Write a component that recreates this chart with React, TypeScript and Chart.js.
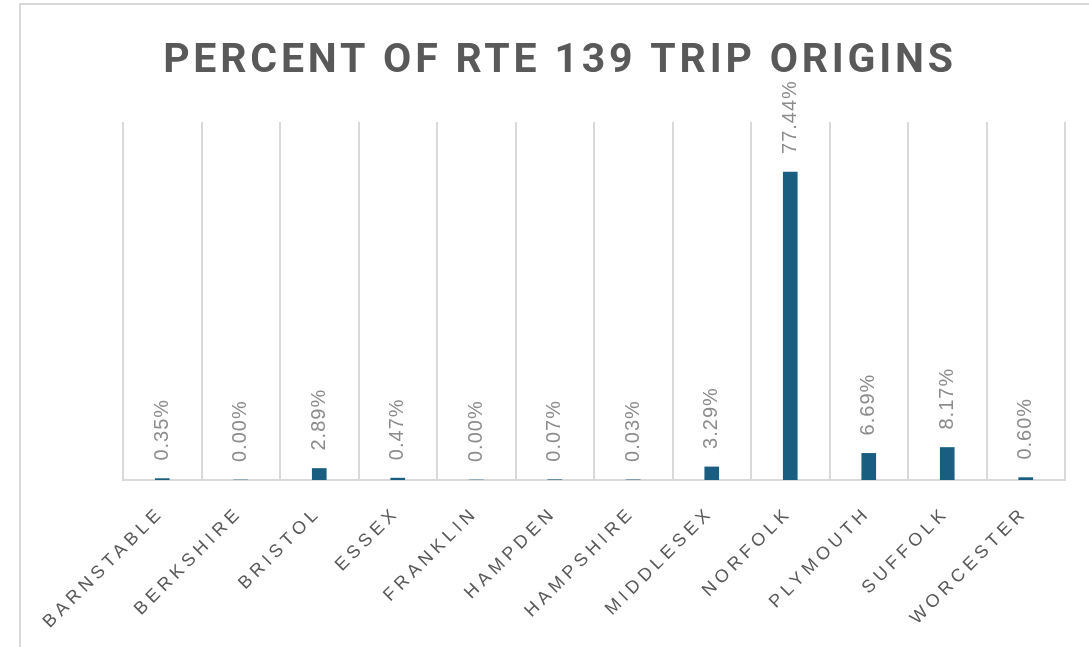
import React, { useEffect, useRef } from "react";
import { Chart, registerables } from "chart.js";

Chart.register(...registerables);

const TITLE = "PERCENT OF RTE 139 TRIP ORIGINS";
const COUNTIES = [
  "BARNSTABLE",
  "BERKSHIRE",
  "BRISTOL",
  "ESSEX",
  "FRANKLIN",
  "HAMPDEN",
  "HAMPSHIRE",
  "MIDDLESEX",
  "NORFOLK",
  "PLYMOUTH",
  "SUFFOLK",
  "WORCESTER",
];
const PERCENTS = [0.35, 0.0, 2.89, 0.47, 0.0, 0.07, 0.03, 3.29, 77.44, 6.69, 8.17, 0.6];
const Y_MAX = 90;

const W = 1089;
const H = 647;

const decorPlugin = {
  id: "decor",
  beforeDraw(chart: any) {
    const ctx = chart.ctx;
    ctx.save();
    ctx.fillStyle = "#ffffff";
    ctx.fillRect(0, 0, chart.width, chart.height);
    ctx.strokeStyle = "#d9d9d9";
    ctx.lineWidth = 2;
    ctx.beginPath();
    ctx.moveTo(20, H + 5);
    ctx.lineTo(20, 4);
    ctx.lineTo(W + 5, 4);
    ctx.stroke();
    ctx.restore();
  },
  afterDraw(chart: any) {
    const ctx = chart.ctx;
    const xs = chart.scales.x;
    const area = chart.chartArea;
    // title
    ctx.save();
    ctx.fillStyle = "#595959";
    ctx.font = "bold 41px Roboto";
    (ctx as any).letterSpacing = "3.8px";
    ctx.textAlign = "center";
    ctx.textBaseline = "alphabetic";
    ctx.fillText(TITLE, 560, 72);
    ctx.restore();

    // data labels
    const meta = chart.getDatasetMeta(0);
    ctx.save();
    ctx.fillStyle = "#8c8c8c";
    ctx.font = "20px 'Liberation Sans'";
    (ctx as any).letterSpacing = "1px";
    ctx.textAlign = "left";
    ctx.textBaseline = "middle";
    meta.data.forEach((bar: any, i: number) => {
      ctx.save();
      ctx.translate(bar.x, bar.y - 18);
      ctx.rotate(-Math.PI / 2);
      ctx.fillText(PERCENTS[i].toFixed(2) + "%", 0, 0);
      ctx.restore();
    });
    ctx.restore();

    // category labels
    ctx.save();
    ctx.fillStyle = "#595959";
    ctx.font = "18px 'Liberation Sans'";
    (ctx as any).letterSpacing = "4.5px";
    ctx.textAlign = "right";
    ctx.textBaseline = "middle";
    COUNTIES.forEach((c, i) => {
      const x = xs.getPixelForValue(i);
      ctx.save();
      ctx.translate(x - 1, area.bottom + 30);
      ctx.rotate((-45 * Math.PI) / 180);
      ctx.fillText(c, 0, 0);
      ctx.restore();
    });
    ctx.restore();
  },
};

export default function App() {
  const ref = useRef<HTMLCanvasElement | null>(null);
  useEffect(() => {
    if (!ref.current) return;
    const chart = new Chart(ref.current, {
      type: "bar",
      data: {
        labels: COUNTIES,
        datasets: [
          {
            data: PERCENTS,
            backgroundColor: "#195e80",
            borderWidth: 0,
            barThickness: 14,
          },
        ],
      },
      options: {
        responsive: false,
        animation: false,
        layout: { padding: { left: 123, right: 24, top: 122, bottom: 167 } },
        plugins: {
          legend: { display: false },
          tooltip: { enabled: false },
          title: { display: false },
        },
        scales: {
          x: {
            offset: true,
            grid: { display: true, offset: true, color: "#d9d9d9", lineWidth: 2, drawTicks: false },
            border: { display: true, color: "#d9d9d9", width: 2 },
            ticks: { display: false },
          },
          y: {
            display: false,
            min: 0,
            max: Y_MAX,
          },
        },
      },
      plugins: [decorPlugin],
    });
    return () => chart.destroy();
  }, []);
  return (
    <div style={{ position: "fixed", left: 0, top: 0, width: W, height: H, background: "#fff" }}>
      <canvas ref={ref} width={W} height={H} style={{ width: W, height: H, display: "block" }} />
    </div>
  );
}
